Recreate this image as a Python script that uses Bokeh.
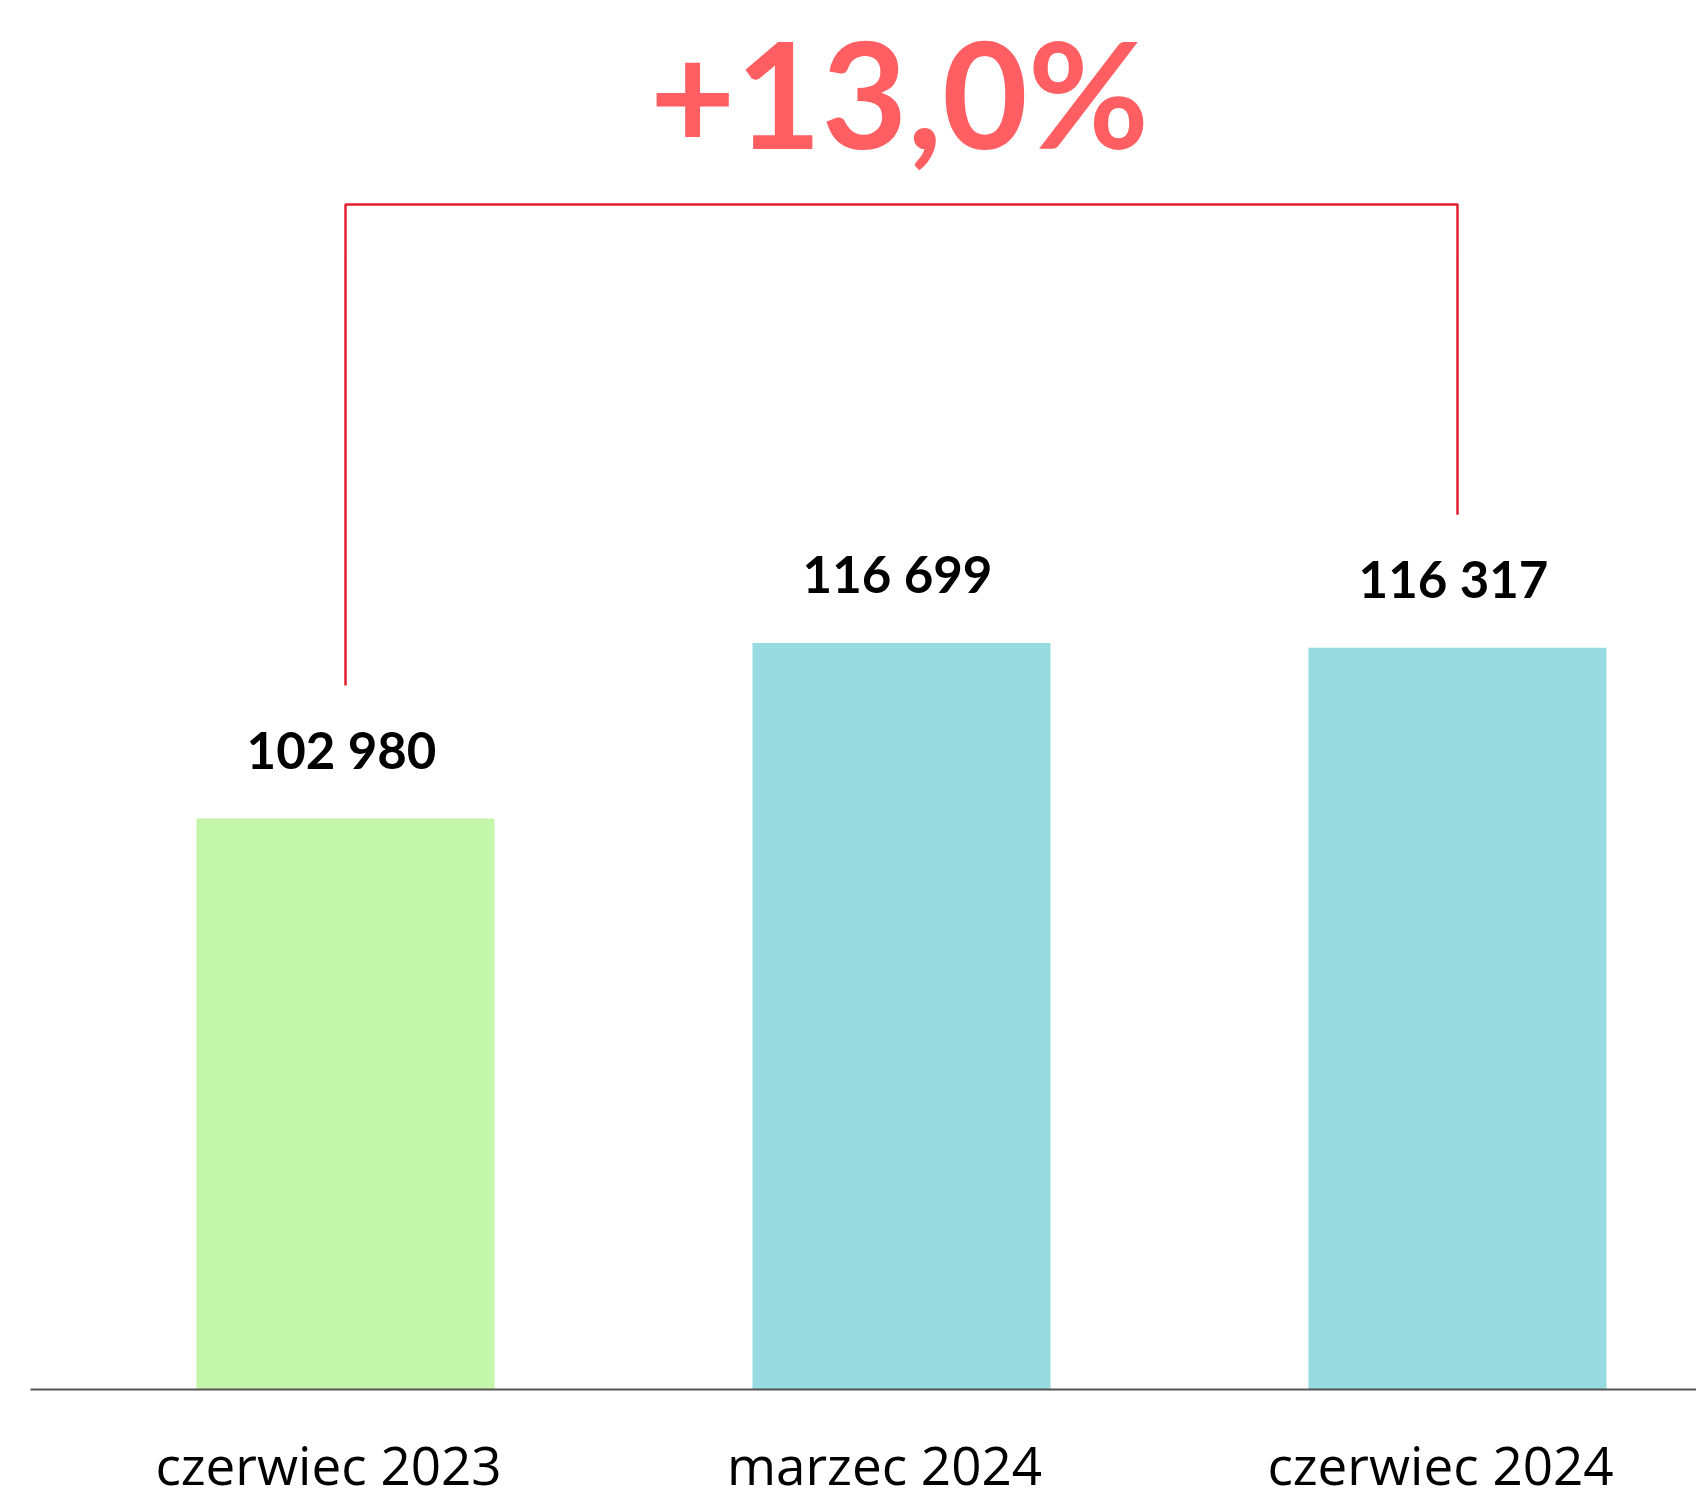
from bokeh.plotting import figure
from bokeh.models import Range1d
from bokeh.core.properties import value
from bokeh.embed import file_html
from bokeh.resources import INLINE

# ---- data ----
categories = ["czerwiec 2023", "marzec 2024", "czerwiec 2024"]
values = [102980, 116699, 116317]
value_labels = ["102 980", "116 699", "116 317"]
bar_colors = ["#c3f6aa", "#97dadf", "#97dadf"]

x_pos = list(range(len(categories)))
change = (values[2] / values[0] - 1) * 100
change_label = "+" + f"{change:.1f}".replace(".", ",") + "%"

# ---- scales (visually truncated baseline, as in the original) ----
W, H = 1696, 1504
base = 58400          # value sitting on the baseline
units_per_px = 78.09
px_per_cat = 556
y_start = base - (H - 1389) * units_per_px
y_end = base + 1389 * units_per_px
x_start = -345 / px_per_cat
x_end = x_start + W / px_per_cat

p = figure(width=W, height=H, output_backend="svg", toolbar_location=None,
           x_range=Range1d(x_start, x_end), y_range=Range1d(y_start, y_end),
           x_axis_location=None, y_axis_location=None,
           min_border=0, min_border_left=0, min_border_right=0,
           min_border_top=0, min_border_bottom=0, outline_line_color=None)
p.grid.visible = False
p.background_fill_color = "white"
p.border_fill_color = "white"

# bars
p.vbar(x=x_pos, top=values, bottom=base, width=298 / px_per_cat,
       fill_color=bar_colors, line_color=None)

# baseline
p.segment(x0=[x_start + 30 / px_per_cat], y0=[base], x1=[x_end], y1=[base],
          line_color="#555555", line_width=2)

# value labels
p.text(x=x_pos, y=values, text=value_labels, x_offset=-4, y_offset=-69,
       text_align="center", text_baseline="alphabetic",
       text_font=value("Lato"), text_font_style="bold",
       text_font_size="51px", text_color="#000000")

# category labels
p.text(x=x_pos, y=[base] * len(categories), text=categories, x_offset=-17,
       y_offset=75,
       text_align="center", text_baseline="alphabetic",
       text_font=value("Open Sans"), text_font_size="53px",
       text_color="#000000")

# bracket
bracket_gap = 10400
bracket_top = 150940
p.line(x=[x_pos[0], x_pos[0], x_pos[2], x_pos[2]],
       y=[values[0] + bracket_gap, bracket_top, bracket_top, values[2] + bracket_gap],
       line_color="#e3202d", line_width=2.5)

# change label
p.text(x=[x_pos[1]], y=[bracket_top + 8800], text=[change_label], x_offset=-2,
       text_align="center", text_baseline="alphabetic",
       text_font=value("Lato"), text_font_style="bold",
       text_font_size="148px", text_color="#ff5e63")

open("out.html", "w").write(file_html(p, INLINE))
